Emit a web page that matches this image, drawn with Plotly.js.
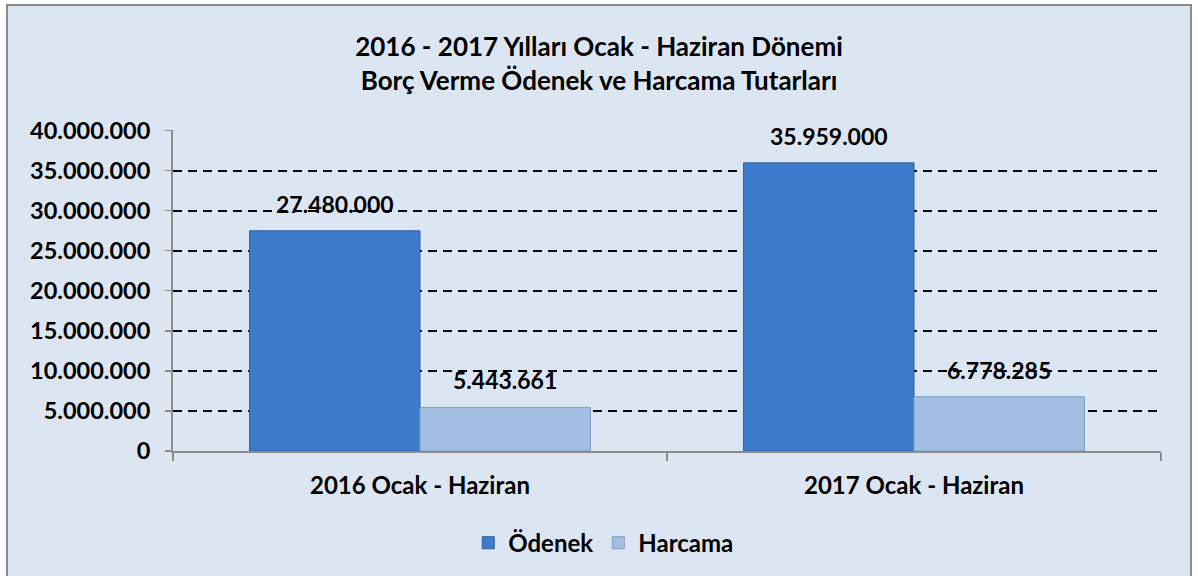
<!DOCTYPE html>
<html>
<head>
<meta charset="utf-8">
<script src="https://cdn.plot.ly/plotly-3.0.1.min.js"></script>
<style>
  html, body { margin: 0; padding: 0; background: #ffffff; overflow: hidden; }
  #frame { position: absolute; left: 6px; top: 4px; width: 1182px; height: 580px;
           border: 2px solid #8c8c8c; background: #DCE6F2; }
  #chart { width: 1182px; height: 572px; }
</style>
</head>
<body>
<div id="frame"><div id="chart"></div></div>
<script>
const categories = ["2016 Ocak - Haziran", "2017 Ocak - Haziran"];
const odenek = [27480000, 35959000];
const harcama = [5443661, 6778285];
const seriesNames = ["Ödenek", "Harcama"];
const yTicks = [0, 5000000, 10000000, 15000000, 20000000, 25000000, 30000000, 35000000, 40000000];

const font = "Lato, 'Open Sans', sans-serif";
const W = 1182, H = 572;
const margin = { l: 165, r: 29, t: 124, b: 121 };
const bargap = 0.31;

const traces = [
  {
    type: "bar", name: seriesNames[0], x: categories, y: odenek,
    marker: { color: "#3D7BCC", line: { color: "#2E5F9E", width: 1 } },
    hoverinfo: "none"
  },
  {
    type: "bar", name: seriesNames[1], x: categories, y: harcama,
    marker: { color: "#A2BEE3", line: { color: "#7F9CC4", width: 1 } },
    hoverinfo: "none"
  }
];

// data labels placed on each bar (offset derived from the bar layout)
const plotW = W - margin.l - margin.r;
const barHalfOffset = plotW / categories.length * (1 - bargap) / 4;
const annotations = [];
[odenek, harcama].forEach((series, si) => {
  series.forEach((v, ci) => {
    annotations.push({
      x: categories[ci], y: v, xref: "x", yref: "y",
      text: v.toLocaleString("de-DE"),
      showarrow: false, xanchor: "center", yanchor: "middle",
      xshift: (si === 0 ? -1 : 1) * barHalfOffset, yshift: 27,
      font: { family: font, size: 23, color: "#000000", weight: 700 }
    });
  });
});

const layout = {
  width: W, height: H,
  paper_bgcolor: "#DCE6F2", plot_bgcolor: "#DCE6F2",
  separators: ",.",
  font: { family: font, color: "#000000", weight: 700 },
  margin: margin,
  title: {
    text: "2016 - 2017 Yılları Ocak - Haziran Dönemi<br>Borç Verme Ödenek ve Harcama Tutarları",
    font: { family: font, size: 26, color: "#000000", weight: 700 },
    x: 0.5, xanchor: "center", y: 0.913, yanchor: "top"
  },
  barmode: "group", bargap: bargap, bargroupgap: 0,
  xaxis: {
    type: "category", showline: true, linecolor: "#8c8c8c", linewidth: 2,
    ticks: "outside", tickson: "boundaries", ticklen: 8, tickcolor: "#8c8c8c", tickwidth: 2,
    ticklabelstandoff: 12,
    tickfont: { family: font, size: 24, color: "#000000", weight: 700 },
    showgrid: false, fixedrange: true
  },
  yaxis: {
    range: [0, 40060000], tickvals: yTicks, tickformat: ",d",
    showline: true, linecolor: "#8c8c8c", linewidth: 2,
    ticks: "outside", ticklen: 6, tickcolor: "#8c8c8c", tickwidth: 1.5,
    ticklabelstandoff: 10,
    tickfont: { family: font, size: 23.5, color: "#000000", weight: 700 },
    showgrid: true, gridcolor: "#000000", gridwidth: 2, griddash: "9px,6px",
    zeroline: false, fixedrange: true
  },
  legend: {
    orientation: "h", x: 0.436, xanchor: "center", y: -0.287, yanchor: "middle",
    font: { family: font, size: 24, color: "#000000", weight: 700 },
    bgcolor: "rgba(0,0,0,0)", itemwidth: 30
  },
  annotations: annotations,
  showlegend: true
};

Plotly.newPlot("chart", traces, layout, { displayModeBar: false, staticPlot: true });
</script>
</body>
</html>
